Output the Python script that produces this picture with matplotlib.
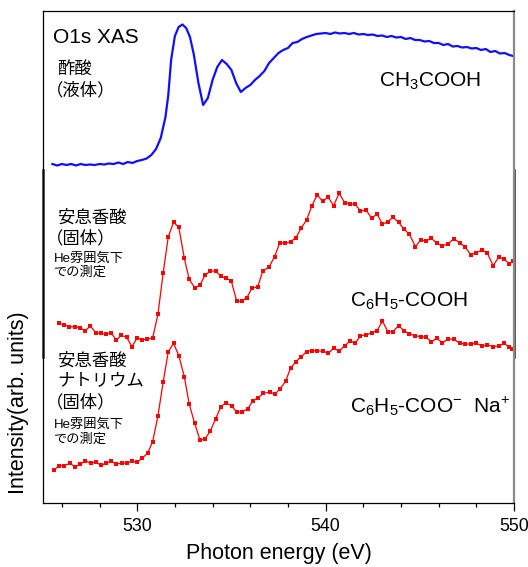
import matplotlib
matplotlib.use("Agg")
import matplotlib.pyplot as plt
from matplotlib.ticker import MultipleLocator
from matplotlib.lines import Line2D

plt.rcParams['font.family'] = ['Liberation Sans', 'Noto Sans CJK JP', 'DejaVu Sans']
plt.rcParams['mathtext.fontset'] = 'custom'
plt.rcParams['mathtext.rm'] = 'Liberation Sans'
plt.rcParams['mathtext.it'] = 'Liberation Sans:italic'
plt.rcParams['mathtext.default'] = 'regular'

# ---- data (photon energy in eV, intensity in arb. units, already stacked) ----
acetic_E = [525.50, 525.75, 526.00, 526.25, 526.50, 526.75, 527.00, 527.25, 527.50, 527.75,
            528.00, 528.25, 528.50, 528.75, 529.00, 529.25, 529.50, 529.75, 530.00, 530.25,
            530.50, 530.75, 531.00, 531.25, 531.50, 531.65, 531.80, 532.00, 532.20, 532.40,
            532.60, 532.80, 533.00, 533.25, 533.50, 533.75, 534.00, 534.25, 534.50, 534.75,
            535.00, 535.25, 535.50, 535.75, 536.00, 536.25, 536.50, 536.75, 537.00, 537.25,
            537.50, 537.75, 538.00, 538.25, 538.50, 538.75, 539.00, 539.25, 539.50, 539.75,
            540.00, 540.25, 540.50, 540.75, 541.00, 541.25, 541.50, 541.75, 542.00, 542.25,
            542.50, 542.75, 543.00, 543.25, 543.50, 543.75, 544.00, 544.25, 544.50, 544.75,
            545.00, 545.25, 545.50, 545.75, 546.00, 546.25, 546.50, 546.75, 547.00, 547.25,
            547.50, 547.75, 548.00, 548.25, 548.50, 548.75, 549.00, 549.25, 549.50, 549.75,
            549.95]
acetic_I = [339, 337.5, 339, 338, 339, 337.5, 339, 338, 338.5, 338,
            339, 338.5, 339.5, 339, 340.5, 339, 341, 340, 342, 343,
            344.5, 348, 354, 365, 386, 408, 443, 467, 476, 478.5,
            475, 466, 449, 420, 398, 405, 423, 436, 443, 439,
            433, 420, 411, 415, 418, 423, 427, 432, 440, 445,
            450, 453, 455, 460, 461, 464, 466, 467.5, 469, 469.5,
            470, 469, 470.5, 469.5, 470, 469, 470, 468.5, 469, 468,
            468.5, 467, 467.5, 466, 467, 465.5, 466, 464, 465, 463,
            463, 461.5, 462, 460, 460, 458, 459, 456.5, 457, 455.5,
            456, 454.5, 455, 453, 454, 451, 452, 449.5, 450, 448,
            447]

benzoic_E = [525.85, 526.13, 526.40, 526.70, 526.96, 527.24, 527.51, 527.80, 528.06, 528.34,
             528.61, 528.89, 529.15, 529.44, 529.72, 529.99, 530.27, 530.53, 530.82, 531.10,
             531.38, 531.65, 531.93, 532.21, 532.50, 532.76, 533.05, 533.33, 533.59, 533.88,
             534.16, 534.44, 534.71, 534.99, 535.28, 535.54, 535.82, 536.10, 536.39, 536.67,
             536.99, 537.29, 537.57, 537.85, 538.14, 538.42, 538.70, 538.99, 539.27, 539.55,
             539.84, 540.14, 540.42, 540.72, 541.01, 541.29, 541.57, 541.85, 542.15, 542.44,
             542.73, 543.02, 543.30, 543.58, 543.87, 544.17, 544.45, 544.77, 545.04, 545.33,
             545.62, 545.90, 546.20, 546.49, 546.80, 547.11, 547.40, 547.71, 547.99, 548.31,
             548.59, 548.89, 549.18, 549.47, 549.76, 549.93]
benzoic_I = [179.7, 178.3, 176.3, 176.3, 175.3, 172.3, 177, 170.3, 169.7, 168.7,
             170.3, 162.7, 167.7, 165.7, 156.3, 165, 163.3, 164, 165, 188.7,
             230.3, 266.3, 280.7, 275.7, 244.7, 223.7, 215.3, 217.7, 227.7, 232,
             232, 227, 224.7, 222.3, 202, 201.7, 205.3, 215.3, 215.7, 232.3,
             235.7, 246.3, 260.3, 259.7, 261.3, 265.3, 274.7, 283, 297, 308,
             302, 305.7, 297.3, 309.7, 300.3, 299, 298.7, 292, 293, 284.7,
             289, 279, 281.3, 285.7, 280.7, 273.7, 268.7, 256.3, 263, 262,
             264.7, 259.7, 257.3, 259, 264.3, 260.3, 256.3, 248, 250.3, 253,
             249.7, 237.3, 245.7, 244, 239, 242]

sodium_E = [525.58, 525.86, 526.13, 526.42, 526.70, 526.98, 527.24, 527.53, 527.80, 528.08,
            528.34, 528.62, 528.89, 529.18, 529.44, 529.72, 529.99, 530.27, 530.55, 530.82,
            531.10, 531.38, 531.65, 531.93, 532.21, 532.50, 532.76, 533.05, 533.33, 533.59,
            533.88, 534.16, 534.44, 534.72, 535.01, 535.29, 535.57, 535.86, 536.14, 536.42,
            536.69, 537.03, 537.31, 537.57, 537.88, 538.14, 538.42, 538.70, 538.99, 539.27,
            539.55, 539.84, 540.14, 540.42, 540.72, 541.01, 541.29, 541.57, 541.85, 542.15,
            542.44, 542.73, 543.02, 543.30, 543.58, 543.87, 544.17, 544.45, 544.77, 545.04,
            545.33, 545.62, 545.90, 546.20, 546.49, 546.80, 547.11, 547.40, 547.71, 547.99,
            548.31, 548.59, 548.89, 549.18, 549.47, 549.76, 549.88]
sodium_I = [33, 37.3, 37.3, 39.7, 36.3, 38.7, 42.3, 39.7, 41, 37.7,
            39.7, 41.7, 39, 39.7, 40, 41.7, 40.7, 45, 49.7, 61.3,
            87, 121.3, 151.3, 159.7, 147.3, 126.3, 99, 79.7, 63, 63.7,
            72, 84, 96.3, 100.3, 97, 90.7, 91.3, 94, 102.3, 105.3,
            109.7, 110.7, 109, 113.7, 122, 134.7, 141.3, 146.3, 151.3, 152.3,
            152, 152, 149.7, 154.7, 152, 157, 162, 159.7, 167.3, 168,
            170.3, 172.3, 182, 171.3, 171.3, 177.3, 172.3, 169, 167.3, 166.3,
            165.7, 161.3, 164.7, 160.3, 163.7, 164, 159.7, 159, 159, 159.7,
            157, 158, 156.3, 157, 159.7, 155.7, 154.3]

xticks = [530, 540, 550]
xtick_labels = ['530', '540', '550']

W, H = 528, 567
fig = plt.figure(figsize=(W / 100, H / 100), dpi=100)
ax = fig.add_axes([43 / W, 1 - 503 / H, (514 - 43) / W, (503 - 11) / H])

ax.plot(acetic_E, acetic_I, color='#1010ff', lw=1.6)
ax.plot(benzoic_E, benzoic_I, color='#ff0000', lw=0.9, marker='s', ms=2.6, mew=0)
ax.plot(sodium_E, sodium_I, color='#ff0000', lw=0.9, marker='s', ms=2.6, mew=0)

ax.set_xlim(525, 550)
ax.set_ylim(0, 492)
ax.set_xticks(xticks)
ax.set_xticklabels(xtick_labels)
ax.xaxis.set_minor_locator(MultipleLocator(2))
ax.set_yticks([])
ax.tick_params(axis='x', which='major', direction='out', length=5.5, width=0.9,
               labelsize=12.8, pad=5)
ax.tick_params(axis='x', which='minor', direction='out', length=3, width=0.9)

for s in ['top', 'bottom', 'left']:
    ax.spines[s].set_color('black')
    ax.spines[s].set_linewidth(0.9)
ax.spines['right'].set_color('#8a8a8a')
ax.spines['right'].set_linewidth(1.6)

# darker frame segments in middle band (overlapping panel frames)
y0, y1 = (503 - 357) / 492, (503 - 170) / 492
ax.add_line(Line2D([0, 0], [y0, y1], transform=ax.transAxes, color='#333333',
                   lw=1.8, clip_on=False))
ax.add_line(Line2D([1, 1], [y0, y1], transform=ax.transAxes, color='#222222',
                   lw=1.8, clip_on=False))

def fx(px):
    return px / W

def fy(py):
    return 1 - py / H

cjk = ['Liberation Sans', 'Noto Sans CJK JP']

fig.text(fx(53), fy(43), 'O1s XAS', fontsize=15, ha='left', va='baseline')
fig.text(fx(57), fy(69), '酢酸', fontsize=12.5, ha='left', va='center', family=cjk)
fig.text(fx(46), fy(90), '（液体）', fontsize=12.5, ha='left', va='center', family=cjk)
fig.text(fx(379), fy(87), 'CH$_3$COOH', fontsize=15, ha='left', va='baseline')

fig.text(fx(57), fy(218), '安息香酸', fontsize=12.5, ha='left', va='center', family=cjk)
fig.text(fx(46), fy(238), '（固体）', fontsize=12.5, ha='left', va='center', family=cjk)
fig.text(fx(54), fy(259), 'He雰囲気下', fontsize=9.5, ha='left', va='center', family=cjk)
fig.text(fx(54), fy(273), 'での測定', fontsize=9.5, ha='left', va='center', family=cjk)
fig.text(fx(350), fy(307), 'C$_6$H$_5$-COOH', fontsize=15, ha='left', va='baseline')

fig.text(fx(57), fy(361), '安息香酸', fontsize=12.5, ha='left', va='center', family=cjk)
fig.text(fx(57), fy(381), 'ナトリウム', fontsize=12.5, ha='left', va='center', family=cjk)
fig.text(fx(46), fy(402), '（固体）', fontsize=12.5, ha='left', va='center', family=cjk)
fig.text(fx(54), fy(425), 'He雰囲気下', fontsize=9.5, ha='left', va='center', family=cjk)
fig.text(fx(54), fy(440), 'での測定', fontsize=9.5, ha='left', va='center', family=cjk)
fig.text(fx(350), fy(413), 'C$_6$H$_5$-COO$^{-}$  Na$^{+}$', fontsize=15, ha='left', va='baseline')

fig.text(fx(19), fy(403), 'Intensity(arb. units)', fontsize=15.5, rotation=90,
         ha='center', va='center')
fig.text(fx(279), fy(553), 'Photon energy (eV)', fontsize=15.5, ha='center', va='center')

fig.savefig('out.png', dpi=100)
